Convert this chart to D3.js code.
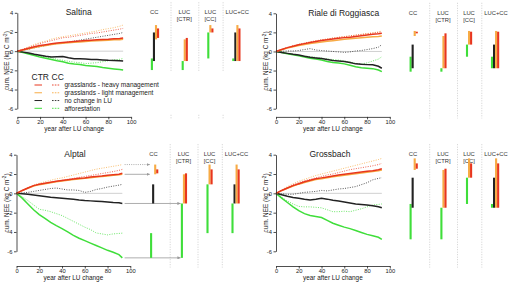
<!DOCTYPE html>
<html>
<head>
<meta charset="utf-8">
<script src="https://cdn.jsdelivr.net/npm/d3@7"></script>
<style>
  body { margin: 0; background: #fff; }
  svg { display: block; font-family: "Liberation Sans", Arial, sans-serif; }
</style>
</head>
<body>
<svg id="chart" width="508" height="284"></svg>
<script>
// years after land use change
const years = [0, 5, 10, 15, 20, 25, 30, 35, 40, 45, 50, 55, 60, 65, 70, 75, 80, 85, 90, 93];
const scenarios = ["grasslands - heavy management", "grasslands - light management", "no change in LU", "afforestation"];
const xTicks = [0, 20, 40, 60, 80, 100];
const yTicks = [-6, -4, -2, 0, 2, 4];
const columns = ["CC", "LUC [CTR]", "LUC [CC]", "LUC+CC"];

// cumulative NEE, order: heavy, light, no change, afforestation
const saltinaCTR = [
  [0, 0.15, 0.3, 0.45, 0.58, 0.68, 0.78, 0.85, 0.9, 0.95, 1.0, 1.05, 1.1, 1.15, 1.2, 1.22, 1.25, 1.3, 1.33, 1.38],
  [0, 0.12, 0.25, 0.38, 0.5, 0.6, 0.7, 0.76, 0.82, 0.88, 0.92, 0.96, 1.0, 1.05, 1.08, 1.12, 1.15, 1.18, 1.2, 1.23],
  [0, -0.1, -0.2, -0.32, -0.42, -0.52, -0.6, -0.58, -0.55, -0.68, -0.78, -0.8, -0.82, -0.86, -0.88, -0.92, -0.96, -0.98, -1.0, -1.03],
  [0, -0.15, -0.3, -0.45, -0.62, -0.75, -0.88, -1.0, -1.1, -1.25, -1.35, -1.4, -1.5, -1.55, -1.6, -1.7, -1.78, -1.85, -1.92, -1.97]
];
const saltinaCC = [
  [0, 0.2, 0.4, 0.6, 0.8, 0.95, 1.1, 1.25, 1.4, 1.45, 1.55, 1.65, 1.75, 1.85, 1.9, 2.0, 2.1, 2.2, 2.3, 2.37],
  [0, 0.2, 0.45, 0.7, 0.9, 1.05, 1.25, 1.4, 1.5, 1.6, 1.7, 1.8, 1.9, 2.0, 2.1, 2.25, 2.35, 2.45, 2.6, 2.72],
  [0, 0.1, 0.2, 0.35, 0.45, 0.6, 0.7, 0.8, 0.85, 0.95, 1.05, 1.15, 1.25, 1.35, 1.45, 1.55, 1.65, 1.75, 1.85, 1.95],
  [0, -0.1, -0.25, -0.4, -0.5, -0.6, -0.7, -0.85, -0.95, -1.05, -1.15, -1.2, -1.3, -1.25, -1.2, -1.1, -1.0, -0.9, -0.85, -0.76]
];
const rialeCTR = [
  [0, 0.2, 0.4, 0.55, 0.7, 0.82, 0.95, 1.05, 1.15, 1.22, 1.3, 1.38, 1.45, 1.5, 1.58, 1.65, 1.72, 1.8, 1.85, 1.9],
  [0, 0.18, 0.35, 0.5, 0.62, 0.72, 0.83, 0.92, 1.0, 1.07, 1.13, 1.2, 1.27, 1.32, 1.38, 1.44, 1.5, 1.55, 1.58, 1.62],
  [0, -0.1, -0.2, -0.3, -0.38, -0.5, -0.6, -0.68, -0.75, -0.85, -0.95, -1.0, -1.05, -1.15, -1.3, -1.35, -1.38, -1.4, -1.55, -1.76],
  [0, -0.12, -0.25, -0.35, -0.45, -0.58, -0.7, -0.8, -0.9, -1.05, -1.15, -1.2, -1.3, -1.45, -1.6, -1.7, -1.75, -1.8, -1.95, -2.12]
];
const rialeCC = [
  [0, 0.22, 0.42, 0.6, 0.75, 0.88, 1.0, 1.12, 1.22, 1.3, 1.4, 1.48, 1.55, 1.62, 1.7, 1.78, 1.85, 1.92, 2.0, 2.07],
  [0, 0.2, 0.4, 0.58, 0.72, 0.85, 0.98, 1.1, 1.2, 1.3, 1.4, 1.48, 1.56, 1.64, 1.72, 1.8, 1.88, 1.96, 2.05, 2.15],
  [0, 0.02, 0.05, 0.05, 0.1, 0.2, 0.3, 0.15, 0.1, 0.05, 0.0, -0.05, -0.1, -0.05, 0.05, 0.1, 0.2, 0.3, 0.45, 0.72],
  [0, -0.1, -0.2, -0.3, -0.4, -0.48, -0.55, -0.62, -0.7, -0.78, -0.85, -0.9, -1.0, -1.1, -1.25, -1.3, -1.2, -1.0, -0.8, -0.55]
];
const alptalCTR = [
  [0, 0.3, 0.55, 0.8, 0.95, 1.05, 1.15, 1.25, 1.32, 1.4, 1.48, 1.55, 1.6, 1.68, 1.75, 1.8, 1.87, 1.92, 1.98, 2.07],
  [0, 0.28, 0.52, 0.75, 0.9, 1.0, 1.1, 1.2, 1.28, 1.35, 1.42, 1.48, 1.55, 1.62, 1.68, 1.74, 1.8, 1.86, 1.92, 1.97],
  [0, -0.05, -0.1, -0.18, -0.25, -0.32, -0.4, -0.45, -0.5, -0.55, -0.62, -0.7, -0.75, -0.78, -0.82, -0.85, -0.9, -0.95, -0.98, -1.05],
  [0, -0.5, -1.1, -1.7, -2.2, -2.6, -3.0, -3.35, -3.65, -4.0, -4.35, -4.65, -4.9, -5.15, -5.4, -5.65, -5.9, -6.1, -6.35, -6.68]
];
const alptalCC = [
  [0, 0.3, 0.55, 0.8, 0.95, 1.05, 1.15, 1.25, 1.35, 1.45, 1.55, 1.65, 1.75, 1.85, 1.95, 2.05, 2.15, 2.25, 2.38, 2.48],
  [0, 0.3, 0.6, 0.85, 1.05, 1.2, 1.35, 1.5, 1.6, 1.75, 1.9, 2.05, 2.2, 2.35, 2.5, 2.6, 2.7, 2.8, 2.9, 2.98],
  [0, 0.05, 0.1, 0.2, 0.3, 0.4, 0.5, 0.55, 0.45, 0.35, 0.35, 0.3, 0.1, 0.2, 0.4, 0.5, 0.65, 0.75, 0.85, 0.93],
  [0, -0.35, -0.75, -1.2, -1.65, -1.75, -1.9, -2.1, -2.3, -2.6, -2.9, -3.2, -3.5, -3.75, -4.1, -4.2, -4.3, -4.2, -4.15, -4.12]
];
const grossbachCTR = [
  [0, 0.3, 0.55, 0.8, 1.0, 1.2, 1.35, 1.5, 1.6, 1.7, 1.8, 1.9, 1.98, 2.05, 2.12, 2.2, 2.28, 2.35, 2.45, 2.55],
  [0, 0.28, 0.52, 0.75, 0.95, 1.12, 1.28, 1.42, 1.52, 1.62, 1.72, 1.8, 1.88, 1.95, 2.02, 2.1, 2.18, 2.25, 2.33, 2.42],
  [0, -0.15, -0.3, -0.42, -0.5, -0.6, -0.68, -0.62, -0.52, -0.6, -0.72, -0.8, -0.9, -1.0, -1.1, -1.15, -1.2, -1.28, -1.38, -1.49],
  [0, -0.5, -0.95, -1.4, -1.8, -2.1, -2.3, -2.4, -2.5, -2.8, -3.1, -3.3, -3.5, -3.65, -3.85, -4.05, -4.25, -4.4, -4.55, -4.76]
];
const grossbachCC = [
  [0, 0.3, 0.6, 0.9, 1.1, 1.3, 1.45, 1.6, 1.75, 1.9, 2.0, 2.15, 2.3, 2.45, 2.55, 2.65, 2.75, 2.85, 2.98, 3.1],
  [0, 0.35, 0.7, 1.0, 1.25, 1.45, 1.65, 1.85, 2.0, 2.15, 2.3, 2.45, 2.6, 2.75, 2.9, 3.05, 3.2, 3.35, 3.5, 3.62],
  [0, -0.05, -0.1, -0.1, 0.0, 0.1, 0.15, 0.2, 0.3, 0.25, 0.35, 0.45, 0.5, 0.6, 0.7, 0.9, 1.1, 1.4, 1.55, 1.62],
  [0, -0.4, -0.8, -1.1, -1.35, -1.4, -1.4, -1.45, -1.5, -1.7, -1.9, -1.9, -1.85, -1.9, -1.75, -1.6, -1.4, -1.2, -1.15, -1.1]
];

const colors = ["#e8361e", "#f7ab45", "#222222", "#3fde3a"];

// layout of the four panels
const panels = [
  { name: "Saltina", ctr: saltinaCTR, cc: saltinaCC, x0: 17.3, top: 12.8, bottom: 108.7, axisY: 116.9, titleX: 78.7, legend: true },
  { name: "Riale di Roggiasca", ctr: rialeCTR, cc: rialeCC, x0: 276, top: 13.3, bottom: 108.7, axisY: 116.9, titleX: 343.7 },
  { name: "Alptal", ctr: alptalCTR, cc: alptalCC, x0: 16.5, top: 154.7, bottom: 251.3, axisY: 266, titleX: 75, arrows: true },
  { name: "Grossbach", ctr: grossbachCTR, cc: grossbachCC, x0: 276, top: 154.7, bottom: 251.3, axisY: 266, titleX: 330 }
];

// x offset (from y axis) of first bar in each column, and separators
const colStart = d3.scaleOrdinal().domain(columns).range([134.6, 165.4, 191, 216]);
const headerX = d3.scaleOrdinal().domain(columns).range([137, 167, 193, 220]);
const sepOffsets = [153.7, 181.5, 205.8];
const barStep = 2.05;
const barW = 2.1;

const svg = d3.select("#chart");

const defs = svg.append("defs");
defs.append("marker")
  .attr("id", "arrow")
  .attr("viewBox", "0 0 6 6")
  .attr("refX", 6).attr("refY", 3)
  .attr("markerWidth", 4).attr("markerHeight", 4)
  .attr("orient", "auto")
  .append("path")
  .attr("d", "M0,0L6,3L0,6Z")
  .attr("fill", "#999");

const last = (arr) => arr[arr.length - 1];

const drawPanel = (p) => {
  const x = d3.scaleLinear().domain([0, 100]).range([p.x0, p.x0 + 113.8]);
  const y = d3.scaleLinear().domain([-6, 4]).range([p.bottom, p.top]);
  const g = svg.append("g");

  // separators of bar columns
  g.selectAll("line.sep")
    .data(sepOffsets)
    .enter()
    .append("line")
    .attr("x1", (d) => p.x0 + d).attr("x2", (d) => p.x0 + d)
    .attr("y1", p.top - 10.5).attr("y2", p.axisY + 1.5)
    .attr("stroke", "#bbb").attr("stroke-width", 0.7)
    .attr("stroke-dasharray", "1,1.5");

  // zero line
  g.append("line")
    .attr("x1", x(0)).attr("x2", x(last(years)))
    .attr("y1", y(0)).attr("y2", y(0))
    .attr("stroke", "#d0d0d0").attr("stroke-width", 1);

  const line = d3.line()
    .x((d, i) => x(years[i]))
    .y((d) => y(d));

  // CC runs dotted, below
  [3, 2, 1, 0].forEach((k) => {
    g.append("path")
      .attr("d", line(p.cc[k]))
      .attr("fill", "none")
      .attr("stroke", colors[k])
      .attr("stroke-width", 0.9)
      .attr("stroke-dasharray", "1,1.4")
      .attr("opacity", 0.85);
  });
  // CTR runs solid
  [3, 2, 1, 0].forEach((k) => {
    g.append("path")
      .attr("d", line(p.ctr[k]))
      .attr("fill", "none")
      .attr("stroke", colors[k])
      .attr("stroke-width", 1.5);
  });

  // axes
  const yAxis = g.append("g")
    .attr("transform", "translate(" + p.x0 + ",0)")
    .call(d3.axisLeft(y).tickValues(yTicks).tickSize(2.5).tickSizeOuter(0).tickPadding(1.5).tickFormat((d) => String(d)));
  const xAxis = g.append("g")
    .attr("transform", "translate(0," + p.axisY + ")")
    .call(d3.axisBottom(x).tickValues(xTicks).tickSize(2.5).tickSizeOuter(0).tickPadding(0.8));
  [yAxis, xAxis].forEach((a) => {
    a.attr("font-size", 5.8).attr("font-family", null);
    a.selectAll("path, line").attr("stroke", "#222").attr("stroke-width", 0.8);
    a.selectAll("text").attr("fill", "#222");
  });

  g.append("text")
    .attr("x", x(50)).attr("y", p.axisY + 13.8)
    .attr("text-anchor", "middle")
    .attr("font-size", 6.4).attr("fill", "#222")
    .text("year after LU change");

  const yl = g.append("text")
    .attr("transform", "translate(" + (p.x0 - 8) + "," + ((p.top + p.bottom) / 2) + ") rotate(-90)")
    .attr("text-anchor", "middle")
    .attr("font-size", 6.4).attr("fill", "#222");
  yl.append("tspan").text("cum. NEE (kg C m");
  yl.append("tspan").attr("dy", -2.2).attr("font-size", 4.5).text("-2");
  yl.append("tspan").attr("dy", 2.2).text(")");

  g.append("text")
    .attr("x", p.titleX).attr("y", p.top + 2.3)
    .attr("text-anchor", "middle")
    .attr("font-size", 8.5).attr("fill", "#222")
    .text(p.name);

  // bar column headers
  columns.forEach((c) => {
    const parts = c.split(" ");
    parts.forEach((t, i) => {
      g.append("text")
        .attr("x", p.x0 + headerX(c))
        .attr("y", p.top + 1.5 + i * 6.8)
        .attr("text-anchor", "middle")
        .attr("font-size", 5.8).attr("fill", "#333")
        .text(t);
    });
  });

  // floating bars built from end values
  const ctrEnd = p.ctr.map(last);
  const ccEnd = p.cc.map(last);
  const bars = [];
  [3, 2, 1, 0].forEach((k, i) => bars.push({ col: "CC", slot: i, k: k, from: ctrEnd[k], to: ccEnd[k] }));
  [3, 1, 0].forEach((k, i) => bars.push({ col: "LUC [CTR]", slot: i, k: k, from: ctrEnd[2], to: ctrEnd[k] }));
  [3, 1, 0].forEach((k, i) => bars.push({ col: "LUC [CC]", slot: i, k: k, from: ccEnd[2], to: ccEnd[k] }));
  [3, 2, 1, 0].forEach((k, i) => bars.push({ col: "LUC+CC", slot: i, k: k, from: ctrEnd[2], to: ccEnd[k] }));

  // guide arrows (Alptal only)
  if (p.arrows) {
    const guides = [
      { v: ccEnd[1], col: "CC", dash: "1,1.2" },
      { v: ctrEnd[1], col: "CC", dash: null },
      { v: ctrEnd[2], col: "LUC [CTR]", dash: null },
      { v: ctrEnd[3], col: "LUC [CTR]", dash: null }
    ];
    g.selectAll("line.guide")
      .data(guides)
      .enter()
      .append("line")
      .attr("x1", x(95)).attr("x2", (d) => p.x0 + colStart(d.col) - 1.3)
      .attr("y1", (d) => y(d.v)).attr("y2", (d) => y(d.v))
      .attr("stroke", "#999").attr("stroke-width", 0.8)
      .attr("stroke-dasharray", (d) => d.dash)
      .attr("marker-end", "url(#arrow)");
  }

  g.selectAll("rect.bar")
    .data(bars)
    .enter()
    .append("rect")
    .attr("x", (d) => p.x0 + colStart(d.col) + d.slot * barStep - barW / 2)
    .attr("width", barW)
    .attr("y", (d) => y(Math.max(d.from, d.to)))
    .attr("height", (d) => Math.abs(y(d.from) - y(d.to)))
    .attr("fill", (d) => colors[d.k]);

  if (p.legend) {
    const lg = g.append("g");
    lg.append("rect")
      .attr("x", 24).attr("y", 71.5).attr("width", 232).attr("height", 42.5)
      .attr("fill", "#fff");
    lg.append("text").attr("x", 31.5).attr("y", 80).attr("font-size", 8.5).attr("fill", "#222").text("CTR");
    lg.append("text").attr("x", 51.5).attr("y", 80).attr("font-size", 8.5).attr("fill", "#222").text("CC");
    const rowY = d3.scalePoint().domain(scenarios).range([85, 108.3]);
    scenarios.forEach((s, k) => {
      lg.append("line")
        .attr("x1", 34.5).attr("x2", 42).attr("y1", rowY(s)).attr("y2", rowY(s))
        .attr("stroke", colors[k]).attr("stroke-width", 1);
      lg.append("line")
        .attr("x1", 52).attr("x2", 59.5).attr("y1", rowY(s)).attr("y2", rowY(s))
        .attr("stroke", colors[k]).attr("stroke-width", 0.9)
        .attr("stroke-dasharray", "1.6,1.2");
      lg.append("text")
        .attr("x", 64.5).attr("y", rowY(s) + 2.3)
        .attr("font-size", 6.5).attr("fill", "#222")
        .text(s);
    });
  }
};

panels.forEach(drawPanel);
</script>
</body>
</html>
